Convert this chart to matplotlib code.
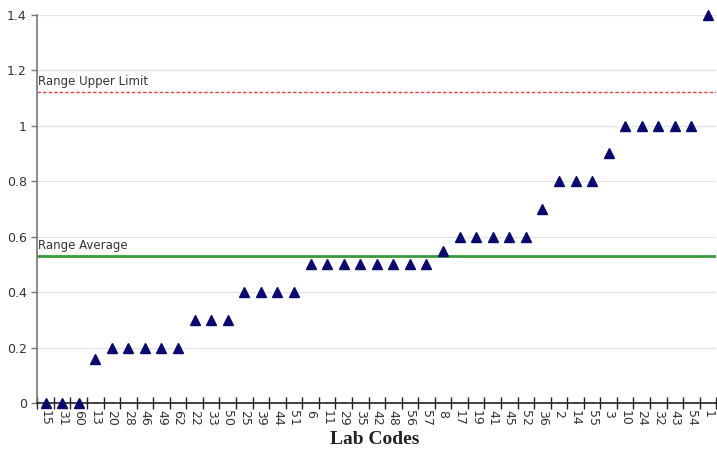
import numpy as np
import matplotlib.pyplot as plt

# lab codes sorted by reported range
lab_codes = ['15', '31', '60', '13', '20', '28', '46', '49', '62', '22', '33', '50',
             '25', '39', '44', '51', '6', '11', '29', '35', '42', '48', '56', '57',
             '8', '17', '19', '41', '45', '52', '36', '2', '14', '55', '3', '10',
             '24', '32', '43', '54', '1']
ranges = [0, 0, 0, 0.16, 0.2, 0.2, 0.2, 0.2, 0.2, 0.3, 0.3, 0.3,
          0.4, 0.4, 0.4, 0.4, 0.5, 0.5, 0.5, 0.5, 0.5, 0.5, 0.5, 0.5,
          0.55, 0.6, 0.6, 0.6, 0.6, 0.6, 0.7, 0.8, 0.8, 0.8, 0.9, 1.0,
          1.0, 1.0, 1.0, 1.0, 1.4]
range_average = 0.53
range_upper = 1.12
y_ticks = [0, 0.2, 0.4, 0.6, 0.8, 1, 1.2, 1.4]
y_tick_labels = ['0', '0.2', '0.4', '0.6', '0.8', '1', '1.2', '1.4']

fig = plt.figure(figsize=(7.17, 4.5), dpi=100)
ax = fig.add_axes([0.052, 0.1044, 0.947, 0.8626])

x = np.arange(len(lab_codes))
n = len(lab_codes)

for y in y_ticks:
    ax.axhline(y, color='#e4e4e4', lw=0.9, zorder=0)

ax.axhline(range_upper, color='#e8404a', lw=1.0, ls=(0, (2.5, 1.5)), zorder=1)
ax.axhline(range_average, color='#3a9a3a', lw=2.0, zorder=1)
ax.text(-0.45, range_upper + 0.015, 'Range Upper Limit', fontsize=8.5,
        color='#333333', va='bottom', ha='left')
ax.text(-0.45, range_average + 0.015, 'Range Average', fontsize=8.5,
        color='#333333', va='bottom', ha='left')

ax.plot(x, ranges, ls='none', marker='^', ms=7.5, color='#0a0a6e',
        clip_on=False, zorder=3)

ax.set_xlim(-0.5, n - 0.5)
ax.set_ylim(0, 1.4)

# tick marks sit on category boundaries, labels under the markers
ax.set_xticks(np.arange(n + 1) - 0.5)
ax.set_xticklabels([])
ax.set_xticks(x, minor=True)
ax.set_xticklabels(lab_codes, minor=True, rotation=-90, fontsize=9, color='#333333')
ax.tick_params(axis='x', which='major', length=8, width=1, color='#222222', direction='inout')
ax.tick_params(axis='x', which='minor', length=0, pad=5)

ax.set_yticks(y_ticks)
ax.set_yticklabels(y_tick_labels, fontsize=9, color='#333333')
ax.tick_params(axis='y', length=4, width=1, color='#777777')

for side in ['top', 'right']:
    ax.spines[side].set_visible(False)
ax.spines['left'].set_color('#777777')
ax.spines['left'].set_linewidth(1.2)
ax.spines['bottom'].set_color('#222222')
ax.spines['bottom'].set_linewidth(1.2)

fig.text(0.523, 0.005, 'Lab Codes', fontsize=14, fontweight='bold',
         family='Liberation Serif', ha='center', va='bottom', color='#222222')

fig.savefig('out.png', dpi=100)
